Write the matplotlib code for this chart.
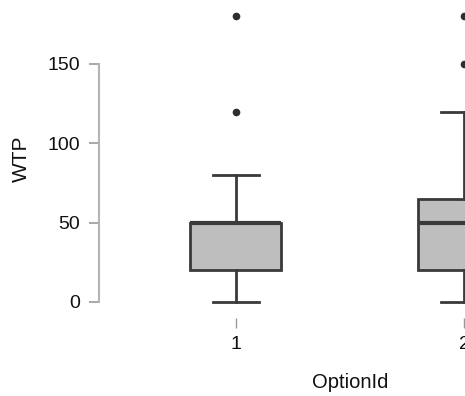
import matplotlib
matplotlib.use("Agg")
import matplotlib.pyplot as plt

categories = ["1", "2"]
whisker_low = [0, 0]
q1 = [20, 20]
median = [50, 50]
q3 = [50, 65]
whisker_high = [80, 120]
outliers = [[120, 180], [150, 180]]

plt.rcParams['font.family'] = ['Liberation Sans', 'DejaVu Sans']

fig = plt.figure(figsize=(4.65, 3.96), dpi=100)
ax = fig.add_axes([98.7 / 465, (396 - 318) / 396, (601 - 98.7) / 465, 318 / 396])

stats = []
for i, c in enumerate(categories):
    stats.append(dict(label=c, whislo=whisker_low[i], q1=q1[i], med=median[i],
                      q3=q3[i], whishi=whisker_high[i], fliers=outliers[i]))

edge = "#3a3a3a"
ax.bxp(stats, positions=[1, 2], widths=0.40, patch_artist=True,
       boxprops=dict(facecolor="#bebebe", edgecolor=edge, linewidth=2.0),
       medianprops=dict(color=edge, linewidth=3.0),
       whiskerprops=dict(color=edge, linewidth=2.0),
       capprops=dict(color=edge, linewidth=2.0),
       capwidths=0.20,
       flierprops=dict(marker='o', markersize=4.5, markerfacecolor="#2e2e2e",
                       markeredgecolor="#2e2e2e"))

ax.set_xlim(0.4, 2.6)
ax.set_ylim(-10.1, 190.3)
ax.set_yticks([0, 50, 100, 150])
ax.set_xticks([1, 2])
ax.set_xticklabels(categories)

for s in ["top", "right", "bottom"]:
    ax.spines[s].set_visible(False)
ax.spines["left"].set_bounds(0, 150)
ax.spines["left"].set_color("#b4b4b4")
ax.spines["left"].set_linewidth(1.5)

ax.tick_params(axis="y", length=7.5, width=1.2, color="#999999", labelsize=14,
               labelcolor="#111111", pad=6)
ax.tick_params(axis="x", length=7, width=1.0, color="#999999", labelsize=14,
               labelcolor="#111111", pad=6, direction="out")

ax.set_ylabel("WTP", fontsize=15, color="#111111", labelpad=12)
ax.set_xlabel("OptionId", fontsize=14.5, color="#111111", labelpad=14.5)

fig.savefig("out.png", dpi=100)
